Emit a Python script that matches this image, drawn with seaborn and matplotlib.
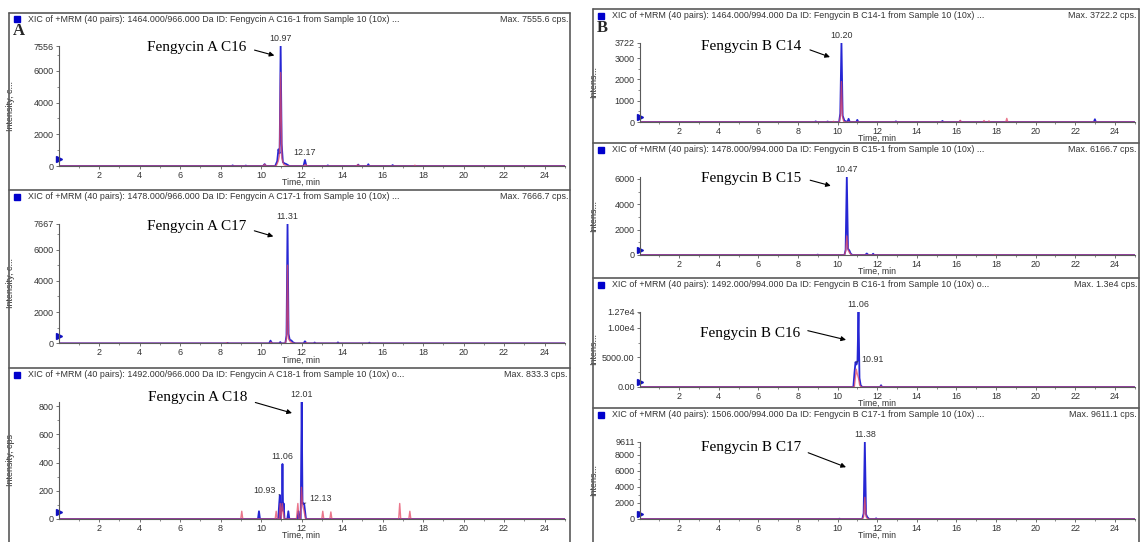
import numpy as np
import pandas as pd
import matplotlib
matplotlib.use("Agg")
import matplotlib.pyplot as plt
import seaborn as sns
from matplotlib.patches import Rectangle
from matplotlib.lines import Line2D
from matplotlib.ticker import FixedLocator, MultipleLocator

# ---------------- DATA ----------------
# Fengycin A C16
a16_blue_t = [0.0, 8.55, 8.6, 8.65, 9.2, 9.25, 9.3, 10.1, 10.18, 10.25, 10.7, 10.8, 10.86, 10.92, 10.97, 11.02, 11.08, 11.15, 11.25, 11.4,
              12.1, 12.17, 12.24, 13.25, 13.3, 13.35, 14.75, 14.8, 14.85, 15.25, 15.3, 15.35, 16.45, 16.5, 16.55, 25.0]
a16_blue_i = [0, 0, 40, 0, 0, 30, 0, 0, 120, 0, 0, 300, 1050, 800, 7556, 1400, 250, 170, 120, 0,
              0, 380, 0, 0, 40, 0, 0, 90, 0, 0, 110, 0, 0, 60, 0, 0]
a16_red_t = [0.0, 10.1, 10.18, 10.26, 10.75, 10.85, 10.91, 10.97, 11.03, 11.12, 11.3, 12.1, 12.2, 12.3, 14.7, 14.78, 14.86, 17.55, 17.6, 17.65, 25.0]
a16_red_i = [0, 0, 110, 0, 0, 300, 650, 5900, 500, 90, 0, 0, 90, 0, 0, 80, 0, 0, 50, 0, 0]

# Fengycin A C17
a17_blue_t = [0.0, 8.3, 8.35, 8.4, 10.4, 10.47, 10.55, 10.9, 10.95, 11.0, 11.2, 11.26, 11.31, 11.36, 11.42, 11.5, 11.58, 11.7,
              12.1, 12.17, 12.25, 12.6, 12.65, 12.7, 13.75, 13.8, 13.85, 15.3, 15.35, 15.4, 25.0]
a17_blue_i = [0, 0, 30, 0, 0, 170, 0, 0, 80, 0, 0, 500, 7667, 600, 220, 180, 60, 0,
              0, 130, 0, 0, 50, 0, 0, 60, 0, 0, 40, 0, 0]
a17_red_t = [0.0, 8.25, 8.3, 8.35, 10.45, 10.5, 10.55, 11.2, 11.26, 11.31, 11.36, 11.45, 11.6, 12.2, 12.25, 12.3, 25.0]
a17_red_i = [0, 0, 40, 0, 0, 80, 0, 0, 300, 5000, 300, 90, 0, 0, 50, 0, 0]

# Fengycin A C18
a18_blue_t = [0.0, 9.85, 9.9, 9.95, 10.85, 10.9, 10.93, 10.96, 11.0, 11.03, 11.06, 11.09, 11.12, 11.16, 11.3, 11.35, 11.4,
              11.8, 11.85, 11.9, 11.96, 12.01, 12.05, 12.09, 12.13, 12.18, 12.22, 25.0]
a18_blue_i = [0, 0, 55, 0, 0, 110, 170, 0, 110, 60, 390, 60, 110, 0, 0, 55, 0,
              0, 55, 0, 0, 833, 110, 110, 110, 50, 0, 0]
a18_red_t = [0.0, 9.0, 9.05, 9.1, 10.7, 10.75, 10.8, 10.9, 10.95, 11.0, 11.05, 11.1, 11.15, 11.75, 11.82, 11.88,
             11.95, 12.0, 12.05, 12.12, 12.2, 13.0, 13.05, 13.1, 13.4, 13.45, 13.5, 16.8, 16.85, 16.9, 17.3, 17.35, 17.4, 25.0]
a18_red_i = [0, 0, 55, 0, 0, 55, 0, 0, 110, 0, 110, 50, 0, 0, 110, 0,
             0, 225, 100, 60, 0, 0, 55, 0, 0, 50, 0, 0, 110, 0, 0, 55, 0, 0]

# Fengycin B C14
b14_blue_t = [0.0, 8.85, 8.9, 8.95, 9.45, 9.5, 9.55, 10.08, 10.14, 10.2, 10.26, 10.35, 10.5, 10.56, 10.62, 10.95, 11.0, 11.05,
              12.9, 12.95, 13.0, 15.25, 15.3, 15.35, 16.15, 16.2, 16.25, 22.95, 23.0, 23.05, 25.0]
b14_blue_i = [0, 0, 30, 0, 0, 25, 0, 0, 400, 3722, 300, 60, 0, 150, 0, 0, 100, 0,
              0, 30, 0, 0, 50, 0, 0, 40, 0, 0, 130, 0, 0]
b14_red_t = [0.0, 9.75, 9.8, 9.85, 10.1, 10.15, 10.2, 10.25, 10.32, 16.15, 16.2, 16.25, 17.35, 17.4, 17.45, 17.6, 17.65, 17.7,
             18.5, 18.55, 18.6, 25.0]
b14_red_i = [0, 0, 30, 0, 0, 300, 1900, 250, 0, 0, 80, 0, 0, 70, 0, 0, 50, 0,
             0, 170, 0, 0]

# Fengycin B C15
b15_blue_t = [0.0, 8.95, 9.0, 9.05, 10.35, 10.41, 10.47, 10.53, 10.6, 10.66, 10.75, 11.4, 11.48, 11.56, 11.75, 11.8, 11.85, 25.0]
b15_blue_i = [0, 0, 30, 0, 0, 400, 6167, 500, 350, 120, 0, 0, 120, 0, 0, 100, 0, 0]
b15_red_t = [0.0, 10.35, 10.41, 10.47, 10.53, 10.6, 10.7, 17.9, 17.95, 18.0, 25.0]
b15_red_i = [0, 0, 300, 1500, 400, 200, 0, 0, 40, 0, 0]

# Fengycin B C16
b16_blue_t = [0.0, 10.8, 10.86, 10.91, 10.96, 11.01, 11.06, 11.11, 11.17, 11.25, 12.15, 12.2, 12.25, 25.0]
b16_blue_i = [0, 0, 2500, 4200, 3800, 4500, 12700, 1500, 300, 0, 0, 300, 0, 0]
b16_red_t = [0.0, 10.85, 10.9, 10.95, 11.0, 11.06, 11.12, 11.2, 12.15, 12.2, 12.25, 25.0]
b16_red_i = [0, 0, 1500, 3000, 2200, 1500, 300, 0, 0, 150, 0, 0]

# Fengycin B C17
b17_blue_t = [0.0, 10.05, 10.1, 10.15, 11.25, 11.32, 11.38, 11.44, 11.5, 11.6, 11.9, 11.95, 12.0, 25.0]
b17_blue_i = [0, 0, 40, 0, 0, 700, 9611, 600, 250, 0, 0, 80, 0, 0]
b17_red_t = [0.0, 11.25, 11.32, 11.38, 11.44, 11.52, 25.0]
b17_red_i = [0, 0, 300, 2700, 300, 0, 0]

titles = [
    "XIC of +MRM (40 pairs): 1464.000/966.000 Da ID: Fengycin A C16-1 from Sample 10 (10x) ...",
    "XIC of +MRM (40 pairs): 1478.000/966.000 Da ID: Fengycin A C17-1 from Sample 10 (10x) ...",
    "XIC of +MRM (40 pairs): 1492.000/966.000 Da ID: Fengycin A C18-1 from Sample 10 (10x) o...",
    "XIC of +MRM (40 pairs): 1464.000/994.000 Da ID: Fengycin B C14-1 from Sample 10 (10x) ...",
    "XIC of +MRM (40 pairs): 1478.000/994.000 Da ID: Fengycin B C15-1 from Sample 10 (10x) ...",
    "XIC of +MRM (40 pairs): 1492.000/994.000 Da ID: Fengycin B C16-1 from Sample 10 (10x) o...",
    "XIC of +MRM (40 pairs): 1506.000/994.000 Da ID: Fengycin B C17-1 from Sample 10 (10x) ...",
]
max_labels = ["Max. 7555.6 cps.", "Max. 7666.7 cps.", "Max. 833.3 cps.", "Max. 3722.2 cps.",
              "Max. 6166.7 cps.", "Max. 1.3e4 cps.", "Max. 9611.1 cps."]
compound_names = ["Fengycin A C16", "Fengycin A C17", "Fengycin A C18", "Fengycin B C14",
                  "Fengycin B C15", "Fengycin B C16", "Fengycin B C17"]
y_labels = ["Intensity, c...", "Intensity, c...", "Intensity, cps", "Intens...", "Intens...", "Intens...", "Intens..."]
y_max = [7556, 7667, 833, 3722, 6167, 12700, 9611]
y_ticks = [[0, 2000, 4000, 6000, 7556], [0, 2000, 4000, 6000, 7667], [0, 200, 400, 600, 800],
           [0, 1000, 2000, 3000, 3722], [0, 2000, 4000, 6000], [0, 5000, 10000, 12700],
           [0, 2000, 4000, 6000, 8000, 9611]]
y_tick_labels = [["0", "2000", "4000", "6000", "7556"], ["0", "2000", "4000", "6000", "7667"],
                 ["0", "200", "400", "600", "800"], ["0", "1000", "2000", "3000", "3722"],
                 ["0", "2000", "4000", "6000"], ["0.00", "5000.00", "1.00e4", "1.27e4"],
                 ["0", "2000", "4000", "6000", "8000", "9611"]]
y_minor = [1000, 1000, 100, 500, 1000, 2500, 1000]
x_ticks = [2, 4, 6, 8, 10, 12, 14, 16, 18, 20, 22, 24]
x_tick_labels = ["2", "4", "6", "8", "10", "12", "14", "16", "18", "20", "22", "24"]

# peak labels: (time, intensity, text)
peak_labels = [
    [(10.97, 7556, "10.97"), (12.17, 380, "12.17")],
    [(11.31, 7667, "11.31")],
    [(12.01, 833, "12.01"), (11.06, 390, "11.06")],
    [(10.20, 3722, "10.20")],
    [(10.47, 6167, "10.47")],
    [(11.06, 12700, "11.06")],
    [(11.38, 9611, "11.38")],
]

traces = [
    (a16_blue_t, a16_blue_i, a16_red_t, a16_red_i),
    (a17_blue_t, a17_blue_i, a17_red_t, a17_red_i),
    (a18_blue_t, a18_blue_i, a18_red_t, a18_red_i),
    (b14_blue_t, b14_blue_i, b14_red_t, b14_red_i),
    (b15_blue_t, b15_blue_i, b15_red_t, b15_red_i),
    (b16_blue_t, b16_blue_i, b16_red_t, b16_red_i),
    (b17_blue_t, b17_blue_i, b17_red_t, b17_red_i),
]

# ---------------- STYLE / LAYOUT ----------------
sns.set_theme(style="ticks")
plt.rcParams['font.family'] = ['Liberation Sans', 'DejaVu Sans']

W, H = 1141, 542
fig = plt.figure(figsize=(W / 100, H / 100), dpi=100)
fig.patch.set_facecolor("white")

BLUE = "#2626d4"
RED = "#e44a66"
FRAME = "#5a5a5a"
TXT = "#333333"
SMALL = 6.4


def fx(x):
    return x / W


def fy(y):
    return 1 - y / H


def hline(x0, x1, y, lw=1.2):
    fig.add_artist(Line2D([fx(x0), fx(x1)], [fy(y), fy(y)], color=FRAME, lw=lw))


def vline(x, y0, y1, lw=1.2):
    fig.add_artist(Line2D([fx(x), fx(x)], [fy(y0), fy(y1)], color=FRAME, lw=lw))


# block frames
LB = dict(x0=9, x1=570, tops=[12.7, 190, 368], bottom=545)
RB = dict(x0=593, x1=1139, tops=[9, 143, 278, 408], bottom=545)
for blk in (LB, RB):
    vline(blk["x0"], blk["tops"][0], blk["bottom"])
    vline(blk["x1"], blk["tops"][0], blk["bottom"])
    for t in blk["tops"]:
        hline(blk["x0"], blk["x1"], t)

# panel geometry (pixels)
left_bot = [153.3, 153.3, 151.0]
right_bot = [113, 112, 109, 111]
XLAB_DY = 12.3
panels = []
for k, T in enumerate(LB["tops"]):
    panels.append(dict(T=T, bx0=LB["x0"], bx1=LB["x1"], ax0=58.5, ppm=20.25,
                       top=T + 33.5, bot=T + left_bot[k], ylab_x=15))
for k, T in enumerate(RB["tops"]):
    panels.append(dict(T=T, bx0=RB["x0"], bx1=RB["x1"], ax0=639.5, ppm=19.8,
                       top=T + 33.7, bot=T + right_bot[k], ylab_x=598))

# annotation geometry in data units: (text_right_t, text_i, tail_t, tail_i, head_t, head_i)
ann_geo = [
    (9.27, 7460, 9.68, 7310, 10.66, 6970),
    (9.27, 7500, 9.67, 7200, 10.61, 6840),
    (9.33, 860, 9.72, 826, 11.53, 751),
    (8.16, 3540, 8.61, 3385, 9.62, 3046),
    (8.17, 6050, 8.62, 5890, 9.66, 5450),
    (8.14, 8970, 8.50, 9500, 10.43, 7950),
    (8.15, 8840, 8.52, 8240, 10.43, 6440),
]

for k, p in enumerate(panels):
    T = p["T"]
    # title bar
    fig.add_artist(Rectangle((fx(p["bx0"] + 5), fy(T + 9.5)), 6 / W, 6 / H, color="#0000cc",
                             transform=fig.transFigure))
    fig.text(fx(p["bx0"] + 19), fy(T + 6.5), titles[k], fontsize=SMALL, color=TXT, va="center", ha="left")
    fig.text(fx(p["bx1"] - 2), fy(T + 6.5), max_labels[k], fontsize=SMALL, color=TXT, va="center", ha="right")

    ax = fig.add_axes([fx(p["ax0"]), fy(p["bot"]), 25 * p["ppm"] / W, (p["bot"] - p["top"]) / H])
    bt, bi, rt, ri = traces[k]
    dfb = pd.DataFrame({"time": bt, "intensity": bi})
    dfr = pd.DataFrame({"time": rt, "intensity": ri})
    sns.lineplot(data=dfb, x="time", y="intensity", ax=ax, color=BLUE, lw=1.3, estimator=None)
    sns.lineplot(data=dfr, x="time", y="intensity", ax=ax, color=RED, lw=1.0, alpha=0.75, estimator=None)

    ax.set_xlim(0, 25)
    ax.set_ylim(0, y_max[k])
    ax.set_facecolor("none")
    for s in ("top", "right"):
        ax.spines[s].set_visible(False)
    for s in ("left", "bottom"):
        ax.spines[s].set_color(FRAME)
        ax.spines[s].set_linewidth(0.8)
    ax.set_xticks(x_ticks)
    ax.set_xticklabels(x_tick_labels)
    ax.xaxis.set_minor_locator(FixedLocator(list(range(1, 26, 2))))
    ax.set_yticks(y_ticks[k])
    ax.set_yticklabels(y_tick_labels[k])
    ax.yaxis.set_minor_locator(MultipleLocator(y_minor[k]))
    ax.tick_params(which="major", length=2.5, width=0.6, color=FRAME, labelsize=6.5, labelcolor=TXT, pad=1.0)
    ax.tick_params(which="minor", length=1.5, width=0.5, color=FRAME)
    ax.grid(False)

    ax.set_ylabel(y_labels[k], fontsize=6.5, color=TXT)
    ax.yaxis.set_label_coords(-(p["ax0"] - p["ylab_x"]) / (25 * p["ppm"]), 0.5)
    ax.set_xlabel("Time, min", fontsize=6.3, color=TXT)
    ax.xaxis.set_label_coords(0.48, -XLAB_DY / (p["bot"] - p["top"]))

    # start marker on y axis
    ax.plot([0], [0.06], marker=">", color="#1010c0", ms=4, transform=ax.transAxes, clip_on=False)

    # peak labels
    for (t, i, s) in peak_labels[k]:
        ax.annotate(s, xy=(t, i), xytext=(0, 2), textcoords="offset points", ha="center", va="bottom",
                    fontsize=SMALL, color=TXT)

    # compound annotation
    tx, ty, ax_t, ay_t, hx, hy = ann_geo[k]
    ax.text(tx, ty, compound_names[k], ha="right", va="center", fontsize=11,
            family=["Liberation Serif", "DejaVu Serif"], color="black", clip_on=False)
    ax.annotate("", xy=(hx, hy), xytext=(ax_t, ay_t),
                arrowprops=dict(arrowstyle="-|>", color="black", lw=0.8, mutation_scale=7,
                                shrinkA=0, shrinkB=0), annotation_clip=False)

    # extra leader labels
    if k == 2:
        ax.annotate("10.93", xy=(10.93, 170), xytext=(10.72, 205), ha="right", va="center", fontsize=SMALL,
                    color=TXT, arrowprops=dict(arrowstyle="-", lw=0.5, color=TXT, shrinkA=0, shrinkB=0))
        ax.annotate("12.13", xy=(12.13, 110), xytext=(12.38, 145), ha="left", va="center", fontsize=SMALL,
                    color=TXT, arrowprops=dict(arrowstyle="-", lw=0.5, color=TXT, shrinkA=0, shrinkB=0))
    if k == 5:
        ax.annotate("10.91", xy=(10.93, 4200), xytext=(11.2, 4700), ha="left", va="center", fontsize=SMALL,
                    color=TXT, arrowprops=dict(arrowstyle="-", lw=0.5, color=TXT, shrinkA=0, shrinkB=0))

# panel letters
fig.text(fx(13), fy(31), "A", fontsize=12, fontweight="bold", family=["Liberation Serif", "DejaVu Serif"],
         va="center", ha="left")
fig.text(fx(597), fy(28), "B", fontsize=12, fontweight="bold", family=["Liberation Serif", "DejaVu Serif"],
         va="center", ha="left")

fig.savefig("out.png", dpi=100, facecolor="white")
